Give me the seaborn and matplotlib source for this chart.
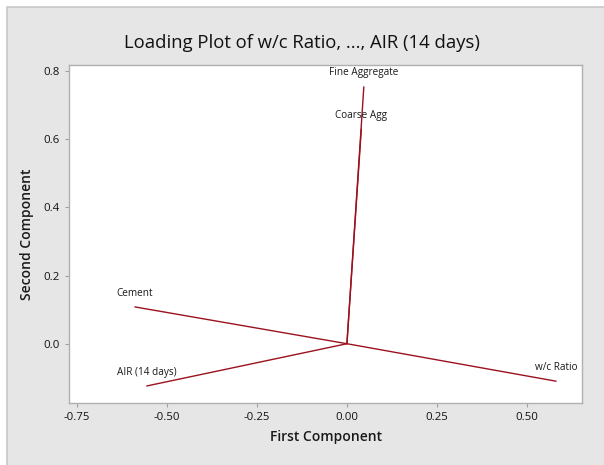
import matplotlib
matplotlib.use("Agg")
import matplotlib.pyplot as plt
from matplotlib.patches import Rectangle
import seaborn as sns
import pandas as pd

variables = ["w/c Ratio", "Cement", "Fine Aggregate", "Coarse Agg", "AIR (14 days)"]
pc1 = [0.581, -0.589, 0.047, 0.040, -0.556]
pc2 = [-0.110, 0.108, 0.754, 0.630, -0.124]
xticks = [-0.75, -0.50, -0.25, 0.00, 0.25, 0.50]
yticks = [0.0, 0.2, 0.4, 0.6, 0.8]

sns.set_theme(style="white")
plt.rcParams['font.family'] = ['Open Sans', 'DejaVu Sans']

rows = []
for v, a, b in zip(variables, pc1, pc2):
    rows.append({"var": v, "x": 0.0, "y": 0.0, "o": 0})
    rows.append({"var": v, "x": a, "y": b, "o": 1})
df = pd.DataFrame(rows)

fig = plt.figure(figsize=(6.04, 4.65), dpi=100)
fig.patch.set_facecolor("white")
bg = Rectangle((7 / 604, -0.1), 1.2, 1.1 - 7 / 465, transform=fig.transFigure,
               facecolor="#e6e6e6", edgecolor="#c8c8c8", linewidth=1.2, zorder=-10)
fig.patches.append(bg)

ax = fig.add_axes([69 / 604, 62 / 465, (582 - 69) / 604, (403 - 65) / 465])
ax.set_facecolor("white")
sns.lineplot(data=df, x="x", y="y", units="var", estimator=None, sort=False,
             color="#9b111e", linewidth=1.0, ax=ax, legend=False)

for v, a, b in zip(variables, pc1, pc2):
    ax.annotate(v, (a, b), xytext=(0, 6), textcoords="offset points",
                ha="center", va="bottom", fontsize=7.2, color="#1a1a1a")

ax.set_xlim(-0.772, 0.653)
ax.set_ylim(-0.174, 0.818)
ax.set_xticks(xticks)
ax.set_xticklabels([f"{t:.2f}" for t in xticks])
ax.set_yticks(yticks)
ax.set_yticklabels([f"{t:.1f}" for t in yticks])
ax.tick_params(axis="both", which="both", direction="out", length=3, width=0.8,
               color="#a0a0a0", labelsize=8.2, labelcolor="#111111", pad=3.5,
               bottom=True, left=True)
for s in ax.spines.values():
    s.set_color("#b0b0b0")
    s.set_linewidth(1.0)

ax.set_xlabel("First Component", fontsize=10, fontweight="semibold", color="#1a1a1a", labelpad=5)
ax.set_ylabel("Second Component", fontsize=10, fontweight="semibold", color="#1a1a1a", labelpad=7)
fig.text(0.5, (465 - 43) / 465, "Loading Plot of w/c Ratio, ..., AIR (14 days)",
         ha="center", va="center", fontsize=13.3, fontweight="medium", color="#111111")

fig.savefig("out.png", dpi=100)
